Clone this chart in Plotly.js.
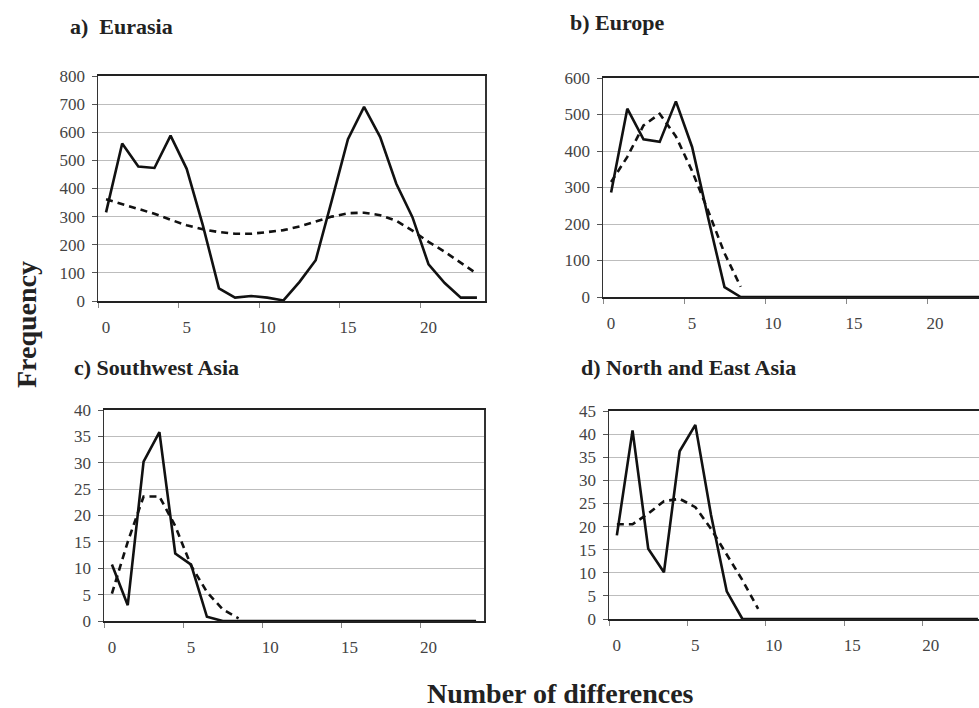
<!DOCTYPE html>
<html>
<head>
<meta charset="utf-8">
<script src="https://cdn.plot.ly/plotly-3.0.1.min.js"></script>
<style>html,body{margin:0;padding:0;background:#fff;}#chart{width:979px;height:708px;}</style>
</head>
<body>
<div id="chart"></div>
<script>
var categories = [0,1,2,3,4,5,6,7,8,9,10,11,12,13,14,15,16,17,18,19,20,21,22,23];
var expCatsB = [0,1,2,3,4,5,6,7,8];
var expCatsC = [0,1,2,3,4,5,6,7,8];
var expCatsD = [0,1,2,3,4,5,6,7,8,9];

var eurasiaObs = [315,560,478,473,588,470,270,45,12,18,12,2,68,145,358,575,690,583,417,298,130,64,12,12];
var eurasiaExp = [362,344,328,310,289,269,255,245,239,239,245,252,265,282,300,312,314,305,285,250,210,175,135,97];

var europeObs = [286,516,432,425,536,411,215,27,0,0,0,0,0,0,0,0,0,0,0,0,0,0,0,0];
var europeExp = [315,384,470,502,440,345,235,120,28];

var swAsiaObs = [10.7,3,30.2,35.8,12.8,10.7,0.8,0,0,0,0,0,0,0,0,0,0,0,0,0,0,0,0,0];
var swAsiaExp = [5.2,15,23.6,23.6,18,10.5,5.5,2.2,0.5];

var neAsiaObs = [18.1,40.8,15.2,10.1,36.3,42,22.5,6,0,0,0,0,0,0,0,0,0,0,0,0,0,0,0,0];
var neAsiaExp = [20.5,20.5,22.8,25.5,26,24.2,19.5,14,8.4,2.2];

var panelTitles = ['a)\u00A0\u00A0Eurasia','b) Europe','c) Southwest Asia','d) North and East Asia'];
var yMax = [800,600,40,45];
var yStep = [100,100,5,5];
var xTitle = 'Number of differences';
var yTitle = 'Frequency';

var serif = 'Liberation Serif';
var solid = {color:'#111', width:2.6};
var dashed = {color:'#111', width:2.6, dash:'7px,5px'};

function tr(x, y, n, line){
  return {x:x, y:y, type:'scatter', mode:'lines', line:line,
          xaxis:'x'+(n===1?'':n), yaxis:'y'+(n===1?'':n), hoverinfo:'skip', showlegend:false};
}

var data = [
  tr(categories, eurasiaObs, 1, solid), tr(categories, eurasiaExp, 1, dashed),
  tr(categories, europeObs, 2, solid), tr(expCatsB, europeExp, 2, dashed),
  tr(categories, swAsiaObs, 3, solid), tr(expCatsC, swAsiaExp, 3, dashed),
  tr(categories, neAsiaObs, 4, solid), tr(expCatsD, neAsiaExp, 4, dashed)
];

var W = 979, H = 708;
// plot boxes in pixels [left, right, top, bottom] and x range end
var boxes = [
  [98, 485, 76, 301, 23.5],
  [603, 979, 78, 297, 22.71],
  [104, 484, 410, 621, 23.5],
  [609, 979, 411, 619, 23.07]
];

var layout = {
  width: W, height: H,
  margin: {l:0, r:0, t:0, b:0},
  paper_bgcolor: '#fff', plot_bgcolor: '#fff',
  showlegend: false,
  font: {family: serif, color:'#333', size:17},
  annotations: []
};

boxes.forEach(function(b, i){
  var n = i+1, sfx = (n===1?'':n);
  var full = (i===0 || i===2);
  layout['xaxis'+sfx] = {
    domain: [b[0]/W, b[1]/W],
    anchor: 'y'+sfx,
    type: 'category',
    range: [-0.5, b[4]],
    tickmode: 'linear', tick0: 0, dtick: 5,
    tickson: 'boundaries',
    tickangle: 0,
    ticks: 'outside', ticklen: 5, tickcolor: '#888', tickwidth: 1,
    ticklabelstandoff: 10,
    tickfont: {family: serif, size:17, color:'#444'},
    showgrid: false, zeroline: false,
    showline: true, linecolor: '#222', linewidth: 2, mirror: true,
    fixedrange: true
  };
  layout['yaxis'+sfx] = {
    domain: [1-b[3]/H, 1-b[2]/H],
    anchor: 'x'+sfx,
    range: [0, yMax[i]],
    tickmode: 'linear', tick0: 0, dtick: yStep[i],
    ticks: 'outside', ticklen: 5, tickcolor: '#555', tickwidth: 1,
    ticklabelstandoff: 3,
    tickfont: {family: serif, size:17, color:'#444'},
    showgrid: true, gridcolor: '#bdbdbd', gridwidth: 1,
    zeroline: false,
    showline: true, linecolor: '#333', linewidth: 1.5, mirror: full,
    fixedrange: true
  };
});

var titlePos = [[68, 26], [568, 23], [72, 367], [579, 367]];
panelTitles.forEach(function(t, i){
  layout.annotations.push({
    text: '<b>'+t+'</b>', xref:'paper', yref:'paper',
    x: titlePos[i][0]/W, y: 1-titlePos[i][1]/H, xanchor:'left', yanchor:'middle',
    showarrow:false, font:{family: serif, size:22, color:'#222'}
  });
});
layout.annotations.push({
  text:'<b>'+yTitle+'</b>', xref:'paper', yref:'paper', x: 26/W, y: 1-325/H,
  xanchor:'center', yanchor:'middle', textangle:-90, showarrow:false,
  font:{family: serif, size:28, color:'#222'}
});
layout.annotations.push({
  text:'<b>'+xTitle+'</b>', xref:'paper', yref:'paper', x: 560/W, y: 1-693/H,
  xanchor:'center', yanchor:'middle', showarrow:false,
  font:{family: serif, size:28, color:'#222'}
});

Plotly.newPlot('chart', data, layout, {staticPlot:true, displayModeBar:false});
</script>
</body>
</html>
